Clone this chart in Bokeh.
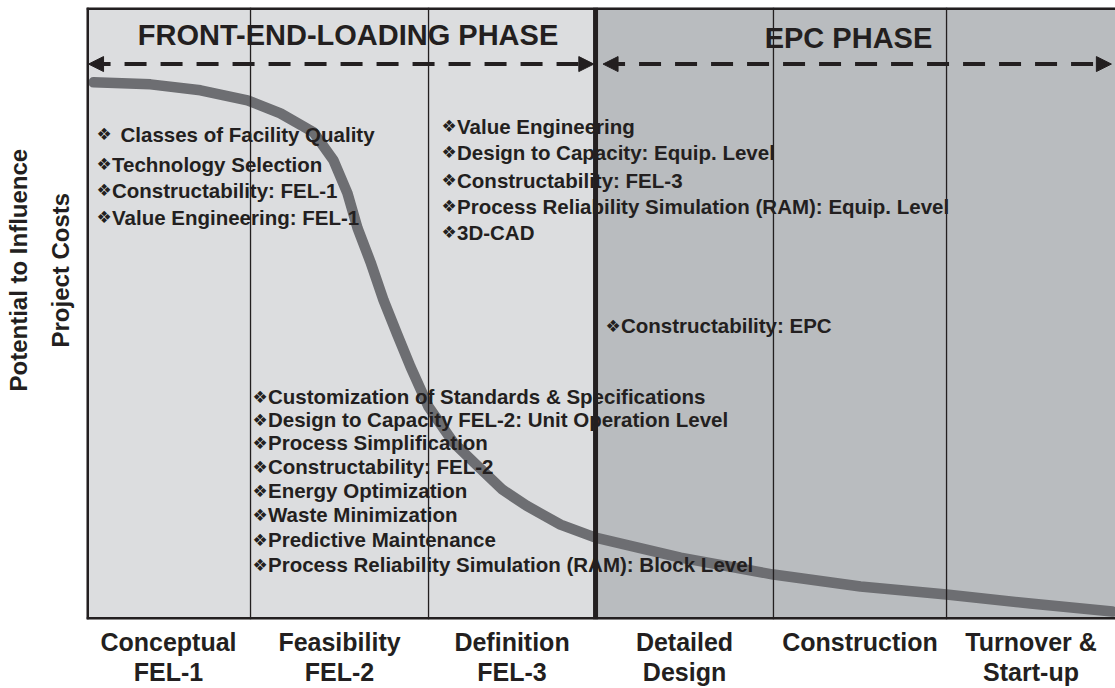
import math
from bokeh.plotting import figure
from bokeh.models import (Range1d, Span, Arrow, NormalHead, BoxAnnotation, Title,
                          LinearAxis, FixedTicker)
from bokeh.core.properties import value
from bokeh.embed import file_html
from bokeh.resources import INLINE

# ---------------- data ----------------
# project timeline (% of project duration) vs potential to influence cost (%)
curve_x = [0.68, 6.22, 11.08, 15.65, 18.85, 22.06, 24.00, 25.36, 26.34, 27.60, 28.86,
           30.22, 31.49, 33.24, 35.67, 38.09, 40.43, 42.76, 46.06, 49.47, 57.73,
           66.76, 75.22, 83.58, 91.74, 99.70]
curve_y = [88.20, 87.87, 86.89, 85.25, 83.11, 80.00, 75.41, 70.00, 64.26, 58.69, 52.46,
           46.72, 41.48, 34.92, 29.02, 25.08, 21.31, 18.69, 15.57, 13.44, 10.16,
           7.38, 5.41, 4.10, 2.62, 1.30]

stage_edges = [0.0, 15.94, 33.24, 49.47, 66.76, 83.58, 100.0]
stage_labels = ["Conceptual\nFEL-1", "Feasibility\nFEL-2", "Definition\nFEL-3",
                "Detailed\nDesign", "Construction", "Turnover &\nStart-up"]

phase_names = ["FRONT-END-LOADING PHASE", "EPC PHASE"]
phase_start = [0.0, 49.47]
phase_end = [49.47, 100.0]

items_fel1 = ["Classes of Facility Quality", "Technology Selection",
              "Constructability: FEL-1", "Value Engineering: FEL-1"]
items_fel3 = ["Value Engineering", "Design to Capacity: Equip. Level",
              "Constructability: FEL-3",
              "Process Reliability Simulation (RAM): Equip. Level", "3D-CAD"]
items_epc = ["Constructability: EPC"]
items_fel2 = ["Customization of Standards & Specifications",
              "Design to Capacity FEL-2: Unit Operation Level",
              "Process Simplification", "Constructability: FEL-2",
              "Energy Optimization", "Waste Minimization",
              "Predictive Maintenance",
              "Process Reliability Simulation (RAM): Block Level"]
BULLET = "\u2756"

# ---------------- layout / style ----------------
INK = "#231F20"
FONT = "Liberation Sans"
LIGHT = "#DCDDDF"
DARK = "#B9BCBF"
Y_END = 100.49

p = figure(width=1115, height=688, output_backend="svg", toolbar_location=None,
           x_range=Range1d(0, 100), y_range=Range1d(0, Y_END),
           x_axis_location=None, y_axis_location=None,
           min_border_left=86, min_border_right=0, min_border_top=7, min_border_bottom=68)
p.grid.visible = False
p.outline_line_color = None
p.background_fill_color = "white"
p.border_fill_color = "white"

# phase backgrounds
for s, e, c in zip(phase_start, phase_end, [LIGHT, DARK]):
    p.add_layout(BoxAnnotation(left=s, right=e, fill_color=c, fill_alpha=1,
                               line_color=None, level="underlay"))

# curve
p.line(curve_x, curve_y, line_width=10.5, line_color="#6D6E72",
       line_cap="round", line_join="round")

# item texts with bullets
def add_items(items, x0, ys, offsets=None):
    n = len(items)
    offs = offsets if offsets is not None else [14.5] * n
    p.text(x=[x0] * n, y=ys, text=[BULLET] * n, text_font=value("DejaVu Sans"),
           text_font_size="17px", text_color=INK, text_align="left",
           text_baseline="middle", x_offset=-1)
    p.text(x=[x0] * n, y=ys, text=items, text_font=value(FONT), x_offset=offs,
           text_font_style="bold", text_font_size="20.5px", text_color=INK,
           text_align="left", text_baseline="middle")

add_items(items_fel1, 1.07, [79.67, 74.75, 70.49, 66.07], [23, 14.5, 14.5, 14.5])
add_items(items_fel3, 34.6, [80.98, 76.72, 72.13, 67.87, 63.61])
add_items(items_epc, 50.53, [48.2])
add_items(items_fel2, 16.23, [36.56, 32.79, 29.02, 25.08, 21.15, 17.21, 13.11, 9.02])

# phase titles
p.text(x=[25.41, 74.05], y=[95.9, 95.5], text=phase_names, text_font=value(FONT),
       text_font_style="bold", text_font_size="29px", text_color=INK,
       text_align="center", text_baseline="middle")

# stage divider lines
for e in stage_edges[1:-1]:
    w = 5 if e == phase_end[0] else 1.3
    p.add_layout(Span(location=e, dimension="height", line_color=INK, line_width=w))

# frame borders (left, top, bottom)
p.add_layout(Span(location=0, dimension="height", line_color=INK, line_width=5))
p.add_layout(Span(location=Y_END, dimension="width", line_color=INK, line_width=5))
p.add_layout(Span(location=0, dimension="width", line_color=INK, line_width=5))

# phase arrows
ARROW_Y = 91.2
for s, e in [(0.2, 49.3), (50.2, 99.6)]:
    p.add_layout(Arrow(x_start=s, y_start=ARROW_Y, x_end=e, y_end=ARROW_Y,
                       start=NormalHead(size=15, fill_color=INK, line_color=INK, line_width=1),
                       end=NormalHead(size=15, fill_color=INK, line_color=INK, line_width=1),
                       line_color=INK, line_width=4, line_dash="22 14"))

# stage labels as bottom axis
centers = [round((stage_edges[i] + stage_edges[i + 1]) / 2, 3) for i in range(len(stage_labels))]
xax = LinearAxis(ticker=FixedTicker(ticks=centers),
                 major_label_overrides={c: t for c, t in zip(centers, stage_labels)})
xax.axis_line_color = None
xax.major_tick_line_color = None
xax.minor_tick_line_color = None
xax.major_tick_out = 0
xax.major_tick_in = 0
xax.major_label_standoff = 8
xax.major_label_text_font = FONT
xax.major_label_text_font_style = "bold"
xax.major_label_text_font_size = "25px"
xax.major_label_text_color = INK
xax.major_label_text_line_height = 1.08
p.add_layout(xax, "below")

# y-axis title (two lines, rotated); offset measured up from frame bottom
for txt, off, so in [("Project Costs", 272, 24.5), ("Potential to Influence", 228, 1)]:
    p.add_layout(Title(text=txt, align="left", offset=off, text_font=FONT,
                       text_font_style="bold", text_font_size="24px",
                       text_color=INK, standoff=so), "left")

open("out.html", "w").write(file_html(p, INLINE))
